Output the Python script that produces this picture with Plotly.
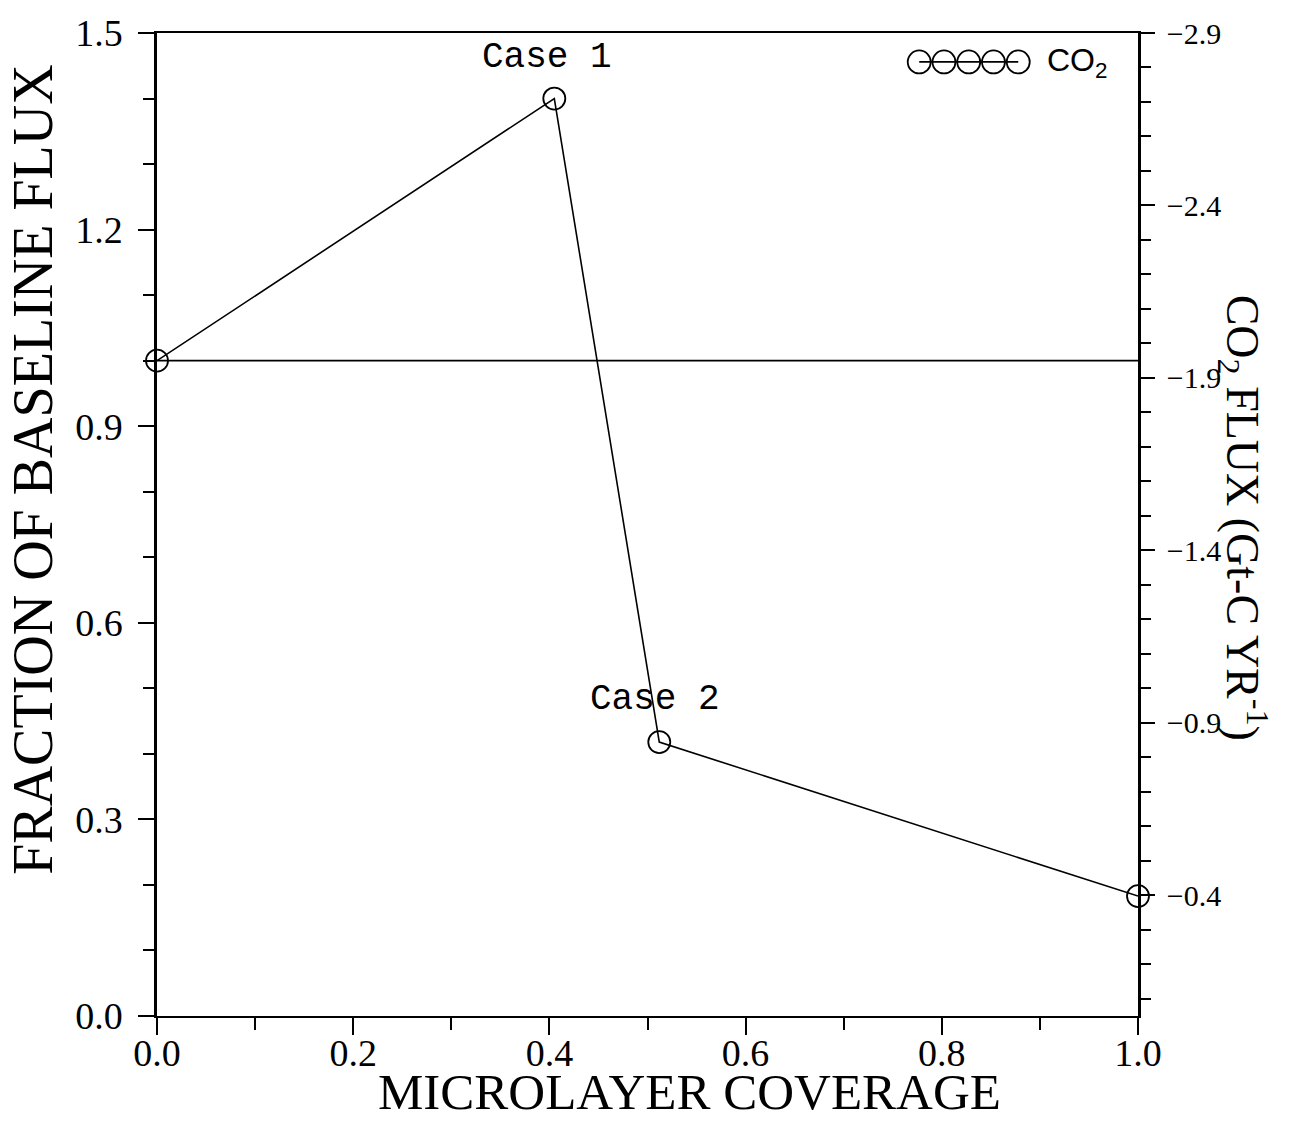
import plotly.graph_objects as go

# ---- data ----
coverage = [0.0, 0.405, 0.512, 1.0]
fraction = [1.0, 1.40, 0.418, 0.183]
baseline_fraction = 1.0
case_labels = ["Case 1", "Case 2"]
case_x = [0.398, 0.508]
case_y = [1.463, 0.483]

y_range = [0.0, 1.5]
x_range = [0.0, 1.0]
flux_range = [-0.05, -2.9]      # right axis (CO2 flux, Gt-C/yr), reversed
flux_tick0 = -2.9

x_title = "MICROLAYER COVERAGE"
y_title = "FRACTION OF BASELINE FLUX"
y2_title = "CO<sub>2</sub> FLUX (Gt-C YR<sup>-1</sup>)"
legend_name = "CO<sub>2</sub>"

SERIF = "Liberation Serif"

fig = go.Figure()

fig.add_trace(go.Scatter(
    x=coverage, y=fraction, mode="lines+markers", name="CO₂",
    line=dict(color="black", width=1.6),
    marker=dict(symbol="circle-open", size=22, color="black", line=dict(width=1.8, color="black")),
    cliponaxis=False, showlegend=False,
))
# invisible trace to activate the right axis
fig.add_trace(go.Scatter(x=[None], y=[None], yaxis="y2", showlegend=False, hoverinfo="skip"))

fig.add_shape(type="line", xref="x domain", yref="y", x0=0, x1=1,
              y0=baseline_fraction, y1=baseline_fraction,
              line=dict(color="black", width=1.6))

# legend glyph: a line through five open circles (drawn in pixel units)
leg_x, leg_y = 0.777, 0.9706     # anchor (paper) of the first circle
leg_n, leg_step, leg_r = 5, 24.75, 11.5
fig.add_shape(type="line", xref="paper", yref="paper", xsizemode="pixel", ysizemode="pixel",
              xanchor=leg_x, yanchor=leg_y, x0=0, x1=(leg_n - 1) * leg_step, y0=0, y1=0,
              line=dict(color="black", width=1.6))
for i in range(leg_n):
    fig.add_shape(type="circle", xref="paper", yref="paper", xsizemode="pixel", ysizemode="pixel",
                  xanchor=leg_x, yanchor=leg_y,
                  x0=i * leg_step - leg_r, x1=i * leg_step + leg_r, y0=-leg_r, y1=leg_r,
                  line=dict(color="black", width=1.8))

fig.update_layout(
    width=1293, height=1122,
    margin=dict(l=157, r=155, t=28, b=106),
    paper_bgcolor="white", plot_bgcolor="white",
    xaxis=dict(
        range=x_range, tick0=0, dtick=0.2, tickformat=".1f",
        showline=True, linecolor="black", linewidth=2, mirror=True,
        ticks="outside", ticklen=17, tickwidth=2, tickcolor="black",
        minor=dict(dtick=0.1, ticks="outside", ticklen=12, tickwidth=2, tickcolor="black"),
        showgrid=False, zeroline=False,
        tickfont=dict(family=SERIF, size=38, color="black"),
        ticklabelstandoff=-15,
    ),
    yaxis=dict(
        range=y_range, tick0=0, dtick=0.3, tickformat=".1f",
        showline=True, linecolor="black", linewidth=2.5,
        ticks="outside", ticklen=16, tickwidth=2, tickcolor="black",
        minor=dict(dtick=0.1, ticks="outside", ticklen=11, tickwidth=2, tickcolor="black"),
        showgrid=False, zeroline=False,
        tickfont=dict(family=SERIF, size=38, color="black"),
        ticklabelstandoff=8,
    ),
    yaxis2=dict(
        range=flux_range, overlaying="y", side="right", anchor="x",
        tick0=flux_tick0, dtick=0.5, tickformat=".1f",
        showline=True, linecolor="black", linewidth=2.5,
        ticks="outside", ticklen=14, tickwidth=2, tickcolor="black",
        minor=dict(tick0=flux_tick0, dtick=0.1, ticks="outside", ticklen=10, tickwidth=2, tickcolor="black"),
        showgrid=False, zeroline=False,
        tickfont=dict(family=SERIF, size=30, color="black"),
        ticklabelstandoff=6,
    ),
    showlegend=False,
)

annotations = [
    dict(text=x_title, xref="paper", yref="paper", x=0.543, y=-0.077,
         xanchor="center", yanchor="middle", showarrow=False,
         font=dict(family=SERIF, size=51, color="black")),
    dict(text=y_title, xref="paper", yref="paper", x=-0.126, y=0.556,
         xanchor="center", yanchor="middle", showarrow=False, textangle=-90,
         font=dict(family=SERIF, size=56, color="black")),
    dict(text=y2_title, xref="paper", yref="paper", x=1.107, y=0.507,
         xanchor="center", yanchor="middle", showarrow=False, textangle=90,
         font=dict(family=SERIF, size=46, color="black")),
    dict(text=legend_name, xref="paper", yref="paper", x=0.905, y=0.97,
         xanchor="left", yanchor="middle", showarrow=False,
         font=dict(family="Liberation Sans", size=32, color="black")),
]
for lab, cx, cy in zip(case_labels, case_x, case_y):
    annotations.append(dict(text=lab, x=cx, y=cy, xref="x", yref="y",
                            xanchor="center", yanchor="middle", showarrow=False,
                            font=dict(family="Liberation Mono", size=36, color="black")))
fig.update_layout(annotations=annotations)

fig.write_html("out.html")
